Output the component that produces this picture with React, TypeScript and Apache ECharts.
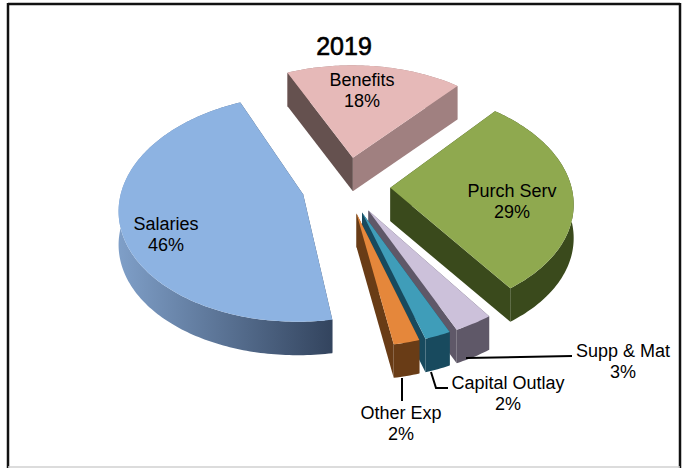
import React, { useEffect, useRef } from "react";
import * as echarts from "echarts";

// Budget shares for 2019, in drawing order (clockwise from the front of the pie).
const categories = ["Salaries", "Benefits", "Purch Serv", "Supp & Mat", "Capital Outlay", "Other Exp"];
const shares = [46, 18, 29, 3, 2, 2];
const titleText = "2019";

// Slice colours: top face, leading and trailing radial walls, rim (start and end of its gradient).
const topColors = ["#8DB3E2", "#E6B9B8", "#8FA94F", "#CCC1DA", "#3F9DB9", "#E5873B"];
const leadWallColors = ["#3A4A63", "#65514F", "#3A4A1C", "#5F5868", "#184A5E", "#693C16"];
const trailWallColors = ["#3A4A63", "#A08080", "#3A4A1C", "#5F5868", "#184A5E", "#693C16"];
const rimStart = ["#7F9FC8", "#A08080", "#3A4A1C", "#5F5868", "#184A5E", "#693C16"];
const rimEnd = ["#33445E", "#A98A8A", "#3A4A1C", "#5F5868", "#184A5E", "#693C16"];

// Label centres and leader lines for the callouts.
const labelCentres: number[][] = [[166, 234], [362, 90], [512, 201], [623, 361], [508, 393], [401, 423]];
const leaders: number[][][] = [
  [], [], [],
  [[466, 358], [572, 356]],
  [[431, 372], [436, 388], [448, 388]],
  [[402, 378], [402, 401]],
];

// Tilted-disc projection.
const CX = 346, CY = 186.5, RX = 181, RY = 110, PERSPECTIVE = 0.12, DEPTH = 33.5;
const START_BEARING = 170.3;
// How far each slice is pulled out of the pie, in disc radii.
const explode = [0.245, 0.272, 0.245, 0.245, 0.245, 0.245];

const toRad = (d: number) => (d * Math.PI) / 180;

function project(x: number, y: number): number[] {
  const w = 1 / (1 - PERSPECTIVE * y);
  return [CX + RX * x * w, CY + RY * y * w];
}

const total = shares.reduce((a, b) => a + b, 0);

function sliceOutline(index: number) {
  let before = 0;
  for (let i = 0; i < index; i++) before += shares[i];
  const a0 = START_BEARING + (before / total) * 360;
  const a1 = a0 + (shares[index] / total) * 360;
  const mid = toRad((a0 + a1) / 2);
  const ax = Math.sin(mid) * explode[index];
  const ay = -Math.cos(mid) * explode[index];
  const arc: number[][] = [];
  const steps = Math.max(4, Math.ceil(a1 - a0));
  for (let s = 0; s <= steps; s++) {
    const b = toRad(a0 + ((a1 - a0) * s) / steps);
    arc.push(project(ax + Math.sin(b), ay - Math.cos(b)));
  }
  // A slice at the back of the disc shows its radial walls, not its rim.
  return { apex: project(ax, ay), arc, rimBehind: Math.cos(mid) > 0 };
}

const lower = (p: number[]) => [p[0], p[1] + DEPTH];

function renderSlice(params: any, api: any) {
  const i = params.dataIndex as number;
  const value = api.value(0) as number;
  const { apex, arc, rimBehind } = sliceOutline(i);
  const base = (i + 1) * 10;
  const first = arc[0];
  const last = arc[arc.length - 1];
  const children: any[] = [
    {
      type: "polygon",
      z2: base,
      shape: { points: [apex, first, lower(first), lower(apex)] },
      style: { fill: leadWallColors[i] },
    },
    {
      type: "polygon",
      z2: base + 1,
      shape: { points: [apex, last, lower(last), lower(apex)] },
      style: { fill: trailWallColors[i] },
    },
    {
      type: "polygon",
      z2: rimBehind ? base - 1 : base + 2,
      shape: { points: [...arc, ...arc.slice().reverse().map(lower)] },
      style: {
        fill: new echarts.graphic.LinearGradient(0, 0, 1, 0, [
          { offset: 0, color: rimStart[i] },
          { offset: 1, color: rimEnd[i] },
        ]),
      },
    },
    {
      type: "polygon",
      z2: base + 3,
      shape: { points: [apex, ...arc] },
      style: { fill: topColors[i] },
    },
    {
      type: "text",
      z2: 200,
      x: labelCentres[i][0],
      y: labelCentres[i][1],
      style: {
        text: `${categories[i]}\n${value}%`,
        fill: "#000000",
        font: '18px "Liberation Sans", Arial, sans-serif',
        lineHeight: 21,
        align: "center",
        verticalAlign: "middle",
      },
    },
  ];
  if (leaders[i].length) {
    children.push({
      type: "polyline",
      z2: 150,
      shape: { points: leaders[i] },
      style: { stroke: "#000000", lineWidth: 2, fill: "none" },
    });
  }
  return { type: "group", children };
}

export default function App() {
  const ref = useRef<HTMLDivElement>(null);
  useEffect(() => {
    document.body.style.margin = "0";
    const chart = echarts.init(ref.current!, null, { renderer: "svg" });
    chart.setOption({
      animation: false,
      backgroundColor: "#ffffff",
      title: {
        text: titleText,
        left: 339,
        top: 28,
        textAlign: "center",
        textStyle: {
          fontFamily: '"Liberation Sans", Arial, sans-serif',
          fontSize: 25,
          fontWeight: "normal",
          color: "#000000",
          textBorderColor: "#000000",
          textBorderWidth: 0.6,
        },
      },
      graphic: [
        { type: "line", shape: { x1: 8, y1: 4, x2: 680, y2: 4 }, style: { stroke: "#111111", lineWidth: 2.5 } },
        { type: "line", shape: { x1: 8, y1: 3, x2: 8, y2: 468 }, style: { stroke: "#111111", lineWidth: 2.5 } },
        { type: "line", shape: { x1: 680, y1: 3, x2: 680, y2: 468 }, style: { stroke: "#111111", lineWidth: 2.5 } },
        { type: "line", shape: { x1: 8, y1: 467, x2: 680, y2: 467 }, style: { stroke: "#D0D0D0", lineWidth: 1.5 } },
      ],
      series: [
        {
          type: "custom",
          coordinateSystem: "none",
          renderItem: renderSlice,
          data: shares.map((v) => [v]),
        },
      ],
    });
    return () => chart.dispose();
  }, []);
  return <div ref={ref} style={{ width: 682, height: 468 }} />;
}
